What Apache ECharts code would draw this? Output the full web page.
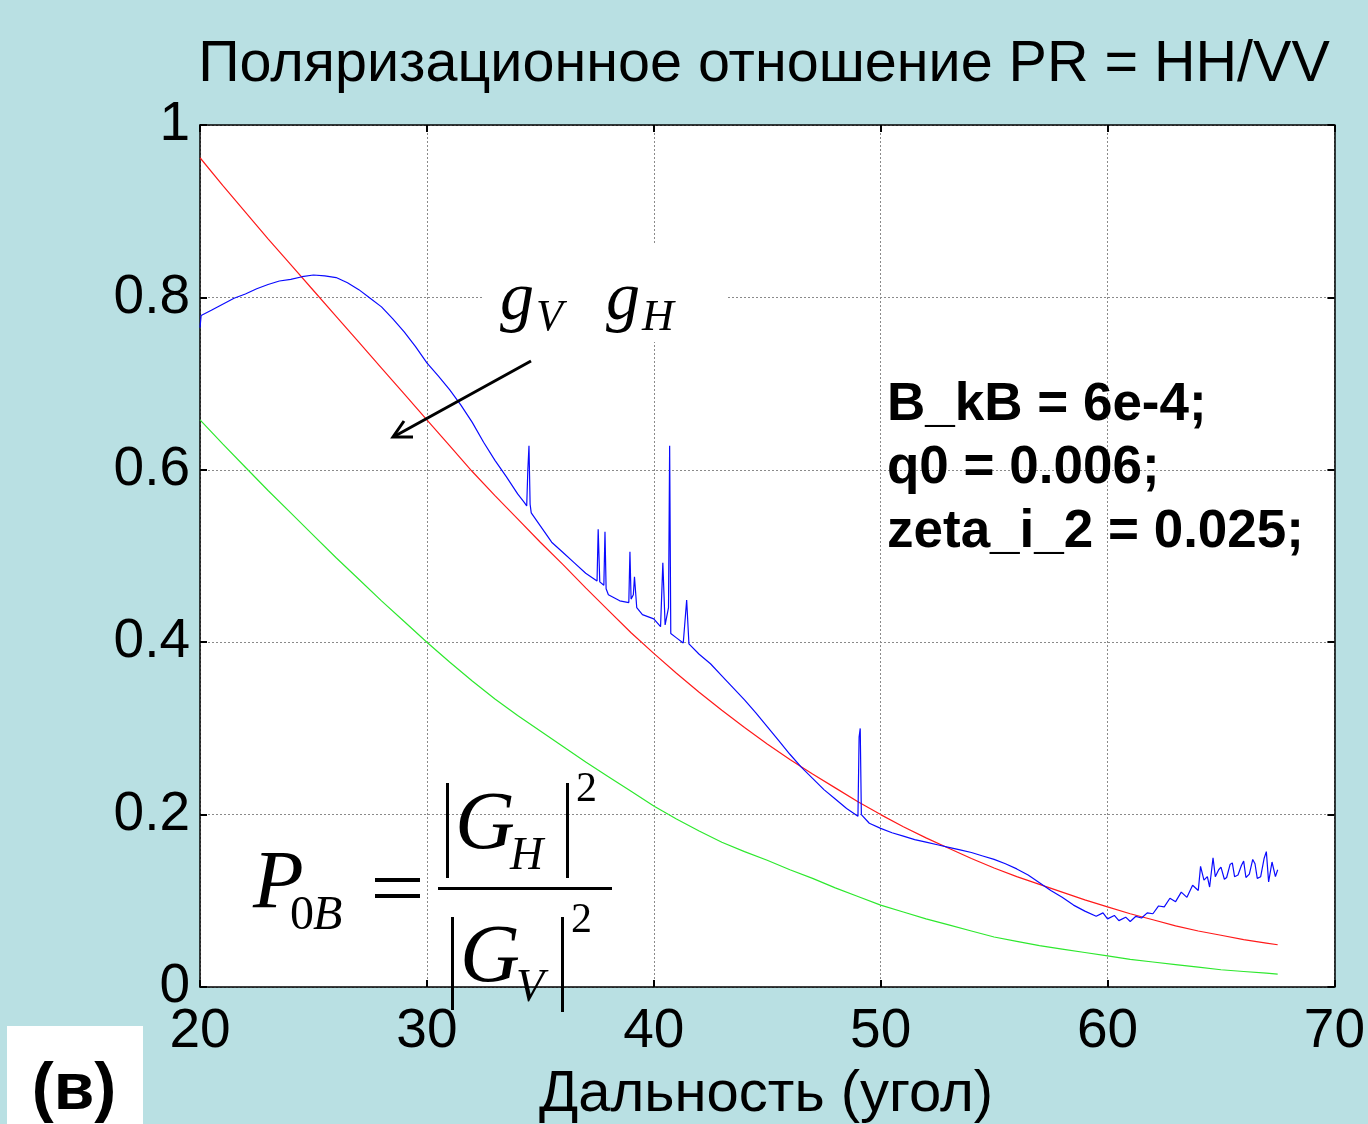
<!DOCTYPE html>
<html>
<head>
<meta charset="utf-8">
<script src="https://cdn.jsdelivr.net/npm/echarts@6/dist/echarts.min.js"></script>
<style>
html,body{margin:0;padding:0;background:#b9e0e3;}
#chart{width:1368px;height:1124px;}
</style>
</head>
<body>
<div id="chart"></div>
<script>
// ---- data ----
var xTicks = [20, 30, 40, 50, 60, 70];
var yTicks = [0, 0.2, 0.4, 0.6, 0.8, 1];

var redX = [20,21,22,23,24,25,26,27,28,29,30,31,32,33,34,35,36,37,38,39,40,41,42,43,44,45,46,47,48,49,50,51,52,53,54,55,56,57,58,59,60,61,62,63,64,65,66,67,67.5];
var redY = [0.962,0.930,0.899,0.868,0.838,0.808,0.778,0.748,0.718,0.688,0.658,0.628,0.598,0.570,0.543,0.516,0.490,0.463,0.437,0.411,0.387,0.364,0.342,0.321,0.301,0.282,0.264,0.247,0.231,0.215,0.200,0.186,0.173,0.161,0.149,0.138,0.128,0.119,0.110,0.101,0.093,0.085,0.078,0.071,0.065,0.060,0.055,0.051,0.049];

var greenX = [20,21,22,23,24,25,26,27,28,29,30,31,32,33,34,35,36,37,38,39,40,41,42,43,44,45,46,47,48,49,50,51,52,53,54,55,56,57,58,59,60,61,62,63,64,65,66,67,67.5];
var greenY = [0.658,0.630,0.603,0.576,0.550,0.524,0.498,0.473,0.448,0.424,0.400,0.377,0.355,0.334,0.315,0.297,0.279,0.261,0.244,0.227,0.210,0.195,0.181,0.168,0.157,0.147,0.136,0.126,0.115,0.105,0.095,0.087,0.079,0.072,0.065,0.058,0.053,0.048,0.044,0.040,0.036,0.032,0.029,0.026,0.023,0.020,0.018,0.016,0.015];

var blueX = [20,20.05,20.5,21,21.5,22,22.5,23,23.5,24,24.5,25,25.5,26,26.5,27,27.5,28,28.5,29,29.5,30,30.5,31,31.5,32,32.5,33,33.5,34,34.3,34.4,34.45,34.5,34.55,34.6,35,35.5,36,36.5,37,37.5,37.55,37.62,37.8,37.85,37.9,38,38.5,38.9,38.95,39,39.1,39.15,39.25,39.5,40,40.3,40.4,40.5,40.65,40.7,40.75,41,41.3,41.45,41.55,42,42.5,43,43.5,44,44.5,45,45.5,46,46.5,47,47.5,48,48.5,49,49.05,49.1,49.15,49.5,50,50.5,51,51.5,52,52.5,53,53.5,54,54.5,55,55.5,56,56.5,57,57.5,58,58.5,59,59.5,59.8,60,60.3,60.5,60.8,61,61.25,61.5,61.75,62,62.25,62.5,62.75,63,63.25,63.5,63.75,64,64.1,64.25,64.4,64.5,64.65,64.75,64.9,65,65.15,65.25,65.4,65.5,65.6,65.75,65.9,66,66.1,66.25,66.4,66.5,66.6,66.75,66.9,67,67.1,67.25,67.4,67.5];
var blueY = [0.765,0.779,0.785,0.792,0.799,0.804,0.810,0.815,0.819,0.821,0.824,0.826,0.825,0.823,0.817,0.809,0.799,0.789,0.775,0.760,0.743,0.724,0.709,0.693,0.675,0.655,0.632,0.611,0.592,0.572,0.562,0.558,0.600,0.628,0.560,0.550,0.535,0.516,0.504,0.492,0.480,0.471,0.531,0.470,0.466,0.528,0.462,0.455,0.448,0.446,0.505,0.450,0.455,0.476,0.440,0.432,0.427,0.418,0.492,0.420,0.440,0.628,0.410,0.405,0.399,0.449,0.398,0.386,0.375,0.361,0.347,0.333,0.318,0.302,0.286,0.270,0.255,0.242,0.229,0.218,0.207,0.198,0.290,0.300,0.200,0.190,0.184,0.179,0.175,0.171,0.168,0.165,0.162,0.159,0.156,0.152,0.148,0.143,0.137,0.130,0.121,0.112,0.104,0.095,0.088,0.082,0.086,0.079,0.083,0.077,0.081,0.076,0.082,0.080,0.086,0.085,0.094,0.093,0.103,0.099,0.110,0.104,0.118,0.112,0.140,0.124,0.128,0.116,0.150,0.128,0.136,0.139,0.125,0.127,0.142,0.144,0.128,0.130,0.141,0.146,0.127,0.131,0.148,0.143,0.126,0.128,0.149,0.157,0.122,0.145,0.128,0.136];

function pairs(xs, ys){ var o=[]; for(var i=0;i<xs.length;i++) o.push([xs[i], ys[i]]); return o; }

var chart = echarts.init(document.getElementById('chart'));
var FONT = 'Liberation Sans, Arial, sans-serif';
var SERIF = 'Liberation Serif, Times New Roman, serif';

var axisLineStyle = {color:'#000', width:1.5};
var splitStyle = {color:'#8a8a8a', width:1, type:[2,2]};

var option = {
  backgroundColor:'#b9e0e3',
  animation:false,
  grid:{left:200, right:32, top:125, bottom:137, containLabel:false, show:true, backgroundColor:'#fff', borderWidth:0},
  xAxis:[{
    type:'value', min:20, max:70, interval:10, position:'bottom',
    axisLine:{show:true, onZero:false, lineStyle:axisLineStyle},
    axisTick:{show:true, inside:true, length:7, lineStyle:{color:'#000', width:2}},
    axisLabel:{fontFamily:FONT, fontSize:55, color:'#000', margin:17,
      formatter:function(v){return xTicks.indexOf(v)>=0 ? String(v) : '';}},
    splitLine:{show:true, lineStyle:splitStyle}
  },{
    type:'value', min:20, max:70, interval:10, position:'top',
    axisLine:{show:true, onZero:false, lineStyle:axisLineStyle},
    axisTick:{show:true, inside:true, length:7, lineStyle:{color:'#000', width:2}},
    axisLabel:{show:false}, splitLine:{show:false}
  }],
  yAxis:[{
    type:'value', min:0, max:1, interval:0.2, position:'left',
    axisLine:{show:true, onZero:false, lineStyle:axisLineStyle},
    axisTick:{show:true, inside:true, length:7, lineStyle:{color:'#000', width:2}},
    axisLabel:{fontFamily:FONT, fontSize:55, color:'#000', margin:10,
      formatter:function(v){ var r=Math.round(v*10)/10; return yTicks.indexOf(r)>=0 ? String(r) : ''; }},
    splitLine:{show:true, lineStyle:splitStyle}
  },{
    type:'value', min:0, max:1, interval:0.2, position:'right',
    axisLine:{show:true, onZero:false, lineStyle:axisLineStyle},
    axisTick:{show:true, inside:true, length:7, lineStyle:{color:'#000', width:2}},
    axisLabel:{show:false}, splitLine:{show:false}
  }],
  series:[
    {type:'line', name:'green', data:pairs(greenX, greenY), showSymbol:false, lineStyle:{color:'#2ee82e', width:1.2}, z:3},
    {type:'line', name:'red', data:pairs(redX, redY), showSymbol:false, lineStyle:{color:'#ff1a1a', width:1.2}, z:4},
    {type:'line', name:'blue', data:pairs(blueX, blueY), showSymbol:false, lineStyle:{color:'#0a0aff', width:1.2}, z:5}
  ],
  graphic:[
    // white box hiding grid behind g_V g_H label
    {type:'rect', z:1, silent:true, shape:{x:483, y:243, width:243, height:99}, style:{fill:'#fff'}},
    // title
    {type:'text', z:10, x:764, y:65, style:{text:'Поляризационное отношение PR = HH/VV', font:'57.5px '+FONT, fill:'#000', align:'center', verticalAlign:'middle'}},
    // x axis name
    {type:'text', z:10, x:766, y:1095, style:{text:'Дальность (угол)', font:'58px '+FONT, fill:'#000', align:'center', verticalAlign:'middle'}},
    // parameters
    {type:'text', z:10, x:887, y:405, style:{text:'B_kB = 6e-4;', font:'bold 53px '+FONT, fill:'#000', align:'left', verticalAlign:'middle'}},
    {type:'text', z:10, x:887, y:468, style:{text:'q0 = 0.006;', font:'bold 53px '+FONT, fill:'#000', align:'left', verticalAlign:'middle'}},
    {type:'text', z:10, x:887, y:532, style:{text:'zeta_i_2 = 0.025;', font:'bold 53px '+FONT, fill:'#000', align:'left', verticalAlign:'middle'}},
    // g_V g_H
    {type:'text', z:10, x:500, y:301, style:{text:'g', font:'italic 68px '+SERIF, fill:'#000', align:'left', verticalAlign:'middle'}},
    {type:'text', z:10, x:536, y:318, style:{text:'V', font:'italic 44px '+SERIF, fill:'#000', align:'left', verticalAlign:'middle'}},
    {type:'text', z:10, x:606, y:301, style:{text:'g', font:'italic 68px '+SERIF, fill:'#000', align:'left', verticalAlign:'middle'}},
    {type:'text', z:10, x:642, y:318, style:{text:'H', font:'italic 44px '+SERIF, fill:'#000', align:'left', verticalAlign:'middle'}},
    // arrow
    {type:'line', z:10, shape:{x1:531, y1:361, x2:395, y2:436}, style:{stroke:'#000', lineWidth:3}},
    {type:'polyline', z:10, shape:{points:[[404,421],[393,437],[413,437]]}, style:{stroke:'#000', lineWidth:3, fill:null}},
    // formula P_0B = |G_H|^2 / |G_V|^2
    {type:'text', z:10, x:253, y:885, style:{text:'P', font:'italic 83px '+SERIF, fill:'#000', align:'left', verticalAlign:'middle'}},
    {type:'text', z:10, x:290, y:916, style:{text:'0', font:'48px '+SERIF, fill:'#000', align:'left', verticalAlign:'middle'}},
    {type:'text', z:10, x:313, y:916, style:{text:'B', font:'italic 48px '+SERIF, fill:'#000', align:'left', verticalAlign:'middle'}},
    {type:'rect', z:10, shape:{x:375, y:878, width:45, height:4}, style:{fill:'#000'}},
    {type:'rect', z:10, shape:{x:375, y:894, width:45, height:4}, style:{fill:'#000'}},
    {type:'rect', z:10, shape:{x:438, y:887, width:174, height:3}, style:{fill:'#000'}},
    {type:'rect', z:10, shape:{x:446, y:783, width:3, height:95}, style:{fill:'#000'}},
    {type:'text', z:10, x:455, y:826, style:{text:'G', font:'italic 83px '+SERIF, fill:'#000', align:'left', verticalAlign:'middle'}},
    {type:'text', z:10, x:510, y:857, style:{text:'H', font:'italic 46px '+SERIF, fill:'#000', align:'left', verticalAlign:'middle'}},
    {type:'rect', z:10, shape:{x:566, y:783, width:3, height:95}, style:{fill:'#000'}},
    {type:'text', z:10, x:576, y:790, style:{text:'2', font:'42px '+SERIF, fill:'#000', align:'left', verticalAlign:'middle'}},
    {type:'rect', z:10, shape:{x:451, y:917, width:3, height:93}, style:{fill:'#000'}},
    {type:'text', z:10, x:460, y:959, style:{text:'G', font:'italic 83px '+SERIF, fill:'#000', align:'left', verticalAlign:'middle'}},
    {type:'text', z:10, x:516, y:989, style:{text:'V', font:'italic 46px '+SERIF, fill:'#000', align:'left', verticalAlign:'middle'}},
    {type:'rect', z:10, shape:{x:561, y:917, width:3, height:95}, style:{fill:'#000'}},
    {type:'text', z:10, x:571, y:921, style:{text:'2', font:'42px '+SERIF, fill:'#000', align:'left', verticalAlign:'middle'}},
    // (в) box
    {type:'rect', z:10, shape:{x:7, y:1026, width:136, height:98}, style:{fill:'#fff'}},
    {type:'text', z:11, x:74, y:1091, style:{text:'(в)', font:'bold 66px '+FONT, fill:'#000', align:'center', verticalAlign:'middle'}}
  ]
};
chart.setOption(option);
</script>
</body>
</html>
